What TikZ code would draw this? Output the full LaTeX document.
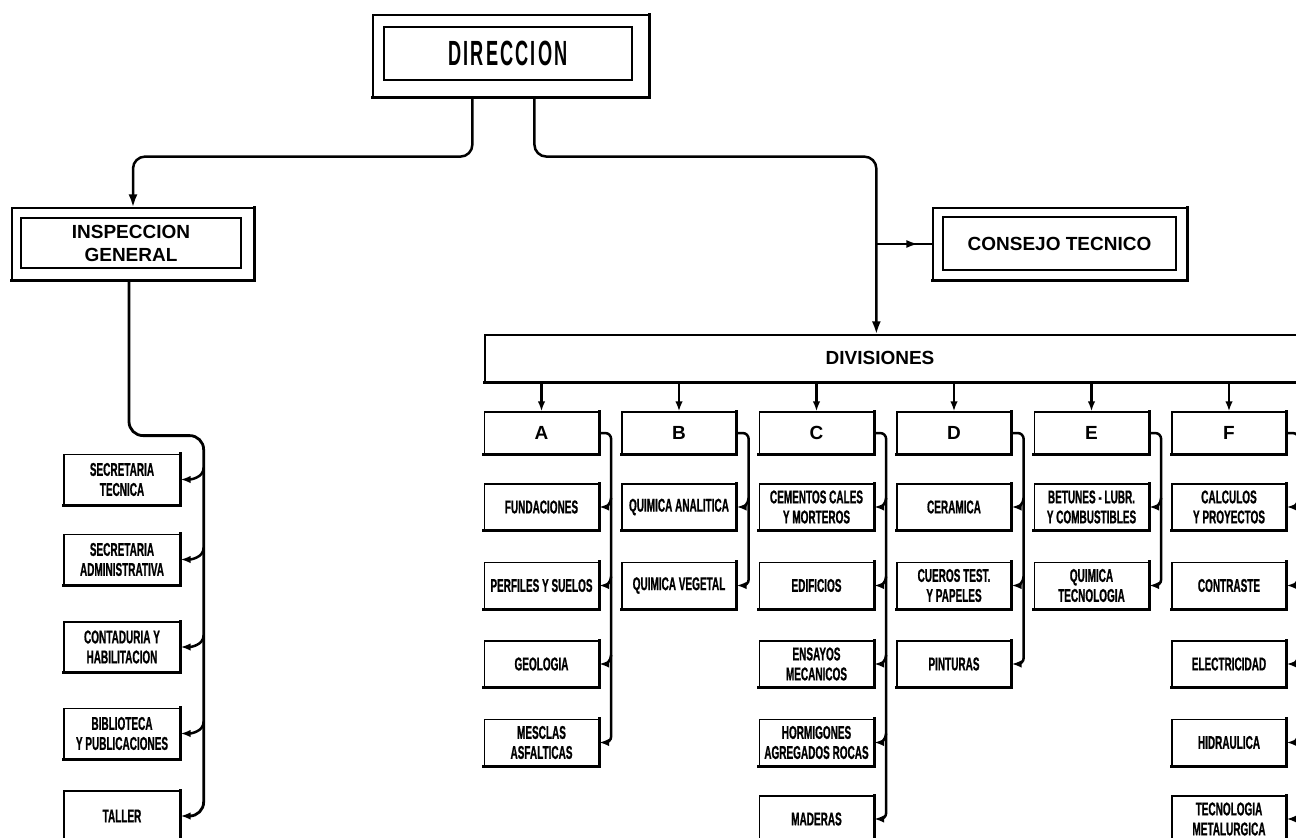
\documentclass[tikz,border=0pt]{standalone}
\usepackage{fontspec}
\setmainfont{Liberation Sans}
\newfontfamily\dirfont{Liberation Sans}[FakeStretch=0.52,LetterSpace=6]
\newfontfamily\condfont{Liberation Sans}[FakeStretch=0.54,FakeBold=0.8]
\usetikzlibrary{arrows.meta,calc,decorations.markings}
\newcommand\smallfont{\condfont\bfseries\fontsize{18.5}{20}\selectfont}
\newcommand\bigfont{\bfseries\fontsize{19}{23}\selectfont}
\tikzset{
  conn/.style={line width=2.5pt},
  arr/.style={-{Latex[length=10pt,width=7.5pt]}},
  bigarr/.style={-{Latex[length=13pt,width=9pt]}},
  sbox/.style={draw, line width=1.3pt, minimum width=114pt, minimum height=46pt, inner sep=0pt, align=center, font=\smallfont},
  lbox/.style={sbox, minimum width=116pt, minimum height=50pt},
  hbox/.style={draw, line width=1.3pt, minimum width=114pt, minimum height=42pt, inner sep=0pt, font=\bigfont},
  outerbox/.style={draw, line width=1.2pt, inner sep=0pt},
  innerbox/.style={draw, line width=2.4pt, inner sep=0pt, align=center},
  shadowline/.style={line width=3.2pt, line cap=rect},
}
\begin{document}
\begin{tikzpicture}[x=1pt,y=-1pt]
\useasboundingbox (0,0) rectangle (1296,838);
\clip (0,0) rectangle (1296,838);

% --- top boxes
\node[outerbox, minimum width=276pt, minimum height=82pt] (dir) at (511,56) {};
\node[innerbox, minimum width=248pt, minimum height=53pt, font=\dirfont\bfseries\fontsize{35}{40}\selectfont] (dirin) at (508,53.5) {DIRECCION};

\node[outerbox, minimum width=242pt, minimum height=72pt] (insp) at (133,244) {};
\node[innerbox, minimum width=220pt, minimum height=50pt, font=\bigfont] (inspin) at (131,243) {INSPECCION\\GENERAL};

\node[outerbox, minimum width=254pt, minimum height=72pt] (cons) at (1060,244) {};
\node[innerbox, minimum width=233pt, minimum height=53pt, font=\bigfont] (consin) at (1059.5,243.5) {CONSEJO TECNICO};

\node[draw, line width=1.3pt, minimum width=835pt, minimum height=47pt, inner sep=0pt] (div) at (902.5,358.5) {};
\node[font=\bigfont] (divlabel) at (880,358) {DIVISIONES};
\coordinate (dbranch) at ($(div.north west)+(392,0)$);

% --- headers
\node[hbox] (A) at (541.5,433) {A};
\node[hbox] (B) at (679,433) {B};
\node[hbox] (C) at (816.5,433) {C};
\node[hbox] (D) at (954,433) {D};
\node[hbox] (E) at (1091.5,433) {E};
\node[hbox] (F) at (1229,433) {F};

% --- children
\node[sbox] (a1) at (541.5,507) {FUNDACIONES};
\node[sbox] (a2) at (541.5,585.5) {PERFILES Y SUELOS};
\node[sbox] (a3) at (541.5,664) {GEOLOGIA};
\node[sbox] (a4) at (541.5,742.5) {MESCLAS\\ASFALTICAS};

\node[sbox] (b1) at (679,507) {QUIMICA ANALITICA};
\node[sbox] (b2) at (679,585.5) {QUIMICA VEGETAL};

\node[sbox] (c1) at (816.5,507) {CEMENTOS CALES\\Y MORTEROS};
\node[sbox] (c2) at (816.5,585.5) {EDIFICIOS};
\node[sbox] (c3) at (816.5,664) {ENSAYOS\\MECANICOS};
\node[sbox] (c4) at (816.5,742.5) {HORMIGONES\\AGREGADOS ROCAS};
\node[sbox] (c5) at (816.5,819) {MADERAS};

\node[sbox] (d1) at (954,507) {CERAMICA};
\node[sbox] (d2) at (954,585.5) {CUEROS TEST.\\Y PAPELES};
\node[sbox] (d3) at (954,664) {PINTURAS};

\node[sbox] (e1) at (1091.5,507) {BETUNES - LUBR.\\Y COMBUSTIBLES};
\node[sbox] (e2) at (1091.5,585.5) {QUIMICA\\TECNOLOGIA};

\node[sbox] (f1) at (1229,507) {CALCULOS\\Y PROYECTOS};
\node[sbox] (f2) at (1229,585.5) {CONTRASTE};
\node[sbox] (f3) at (1229,664) {ELECTRICIDAD};
\node[sbox] (f4) at (1229,742.5) {HIDRAULICA};
\node[sbox] (f5) at (1229,819) {TECNOLOGIA\\METALURGICA};

% --- left column
\node[lbox] (l1) at (122,479.5) {SECRETARIA\\TECNICA};
\node[lbox] (l2) at (122,559.5) {SECRETARIA\\ADMINISTRATIVA};
\node[lbox] (l3) at (122,647) {CONTADURIA Y\\HABILITACION};
\node[lbox] (l4) at (122,733.5) {BIBLIOTECA\\Y PUBLICACIONES};
\node[lbox] (l5) at (122,816) {TALLER};

% --- shadows
\foreach \n in {dir,insp,cons,div,A,B,C,D,E,F,a1,a2,a3,a4,b1,b2,c1,c2,c3,c4,c5,d1,d2,d3,e1,e2,f1,f2,f3,f4,f5,l1,l2,l3,l4,l5}
  \draw[shadowline] (\n.north east) -- (\n.south east) -- (\n.south west);

% --- top connectors
\draw[conn,bigarr,rounded corners=12pt] ([xshift=100pt]dir.south west) -- ++(0,59) -| (insp.north);
\draw[conn,bigarr,rounded corners=12pt] ([xshift=162pt]dir.south west) -- ++(0,59) -| (dbranch);
\draw[conn, postaction={decorate}, decoration={markings, mark=at position 0.75 with {\arrow{Latex[length=12pt,width=8pt]}}}] (dbranch |- cons.west) -- (cons.west);

% --- divisions to headers
\foreach \h in {A,B,C,D,E,F}
  \draw[line width=2.2pt,arr] (\h.north |- div.south) -- (\h.north);

% --- column trunks
\draw[conn,arr,rounded corners=6pt] (A.east) -| ([xshift=12pt]a4.east) -- (a4.east);
\draw[conn,arr,rounded corners=6pt] (B.east) -| ([xshift=12pt]b2.east) -- (b2.east);
\draw[conn,arr,rounded corners=6pt] (C.east) -| ([xshift=12pt]c5.east) -- (c5.east);
\draw[conn,arr,rounded corners=6pt] (D.east) -| ([xshift=12pt]d3.east) -- (d3.east);
\draw[conn,arr,rounded corners=6pt] (E.east) -| ([xshift=12pt]e2.east) -- (e2.east);
\draw[conn,arr,rounded corners=6pt] (F.east) -| ([xshift=12pt]f5.east) -- (f5.east);
\foreach \n in {a1,a2,a3,b1,c1,c2,c3,c4,d1,d2,e1,f1,f2,f3,f4}
  \draw[conn,arr] ([xshift=12pt,yshift=9pt]\n.east) to[out=-90,in=0] (\n.east);

% --- left trunk
\draw[line width=2.8pt,arr,rounded corners=14pt] ([xshift=-4pt]insp.south) -- ++(0,155) -| ([xshift=23pt]l5.east) -- (l5.east);
\foreach \n in {l1,l2,l3,l4}
  \draw[conn,arr] ([xshift=23pt,yshift=12pt]\n.east) to[out=-90,in=0] (\n.east);
\end{tikzpicture}
\end{document}
